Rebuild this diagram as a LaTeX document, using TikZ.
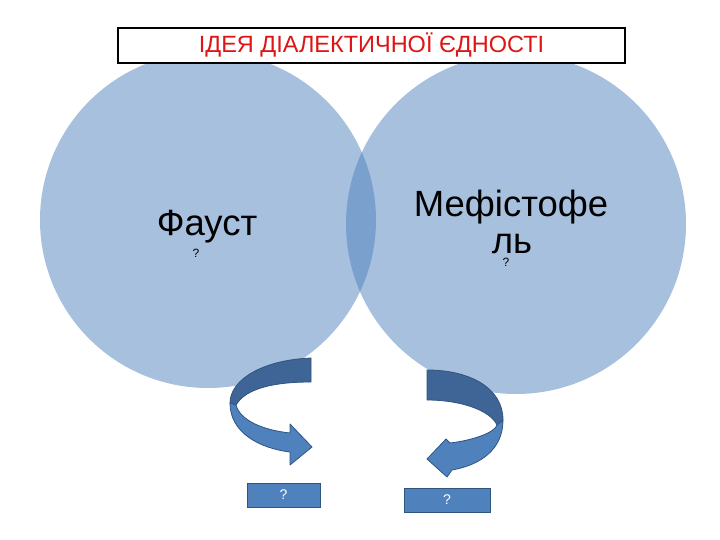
\documentclass[tikz,border=0pt]{standalone}
\usepackage{fontspec}
\setmainfont{Liberation Sans}
\definecolor{circblue}{HTML}{4F81BD}
\definecolor{bandlight}{HTML}{4F81BD}
\definecolor{banddark}{HTML}{3F6496}
\definecolor{bandedge}{HTML}{30557F}
\definecolor{titlered}{HTML}{DD1515}
\tikzset{
  ball/.style={circle, fill=circblue, fill opacity=0.5, draw=none, inner sep=0pt},
  bigtext/.style={font=\fontsize{36.5}{38}\selectfont, text=black, align=center, inner sep=0pt},
  smallq/.style={font=\fontsize{12}{14}\selectfont, text=black, inner sep=0pt},
  qbox/.style={rectangle, fill=bandlight, draw=bandedge, line width=0.8pt, inner sep=0pt, text=white, font=\fontsize{14}{16}\selectfont},
  darkpart/.style={fill=banddark, draw=bandedge, line width=0.8pt, line join=round},
  lightpart/.style={fill=bandlight, draw=bandedge, line width=0.8pt, line join=round},
}
\begin{document}
\begin{tikzpicture}[x=1pt, y=-1pt]
\useasboundingbox (0,0) rectangle (720,540);
% circles
\node[ball, minimum size=336pt] (faust) at (208,220) {};
\node[ball, minimum size=340pt] (mefisto) at (516,224) {};
% texts in circles
\node[bigtext, anchor=base] (tfaust) at (207,236) {Фауст};
\node[bigtext, anchor=base] (tmef1) at (511,216) {Мефістофе};
\node[bigtext, anchor=base] (tmef2) at (512,254) {ль};
\node[smallq] (q1) at (196,253) {?};
\node[smallq] (q2) at (506,262) {?};
% title
\node[rectangle, draw=black, fill=white, line width=1.6pt, minimum width=507pt, minimum height=35pt, text=titlered, font=\fontsize{23.5}{25}\selectfont] (title) at (371.5,45.5) {ІДЕЯ ДІАЛЕКТИЧНОЇ ЄДНОСТІ};
% left curved arrow
\path[darkpart] (311,358) .. controls (262,360) and (230,380) .. (230,403) -- (236,405) .. controls (246,388) and (275,382) .. (311,382) -- cycle;
\path[lightpart] (230,403) .. controls (230,432) and (258,448) .. (290,452) -- (290,465) -- (312,447) -- (290,424) -- (290,433) .. controls (262,430) and (240,420) .. (236,405) -- cycle;
% right curved arrow
\path[darkpart] (427,370) .. controls (470,370) and (503,388) .. (503,420) -- (497,425) .. controls (490,410) and (460,400) .. (427,400) -- cycle;
\path[lightpart] (503,420) .. controls (503,450) and (480,465) .. (452,470) -- (447,477) -- (427,459) -- (446,439) -- (450,443) .. controls (475,440) and (495,432) .. (497,425) -- cycle;
% question boxes
\node[qbox, minimum width=73pt, minimum height=24pt] (box1) at (283.5,495) {?};
\node[qbox, minimum width=86pt, minimum height=24pt] (box2) at (447,500) {?};
\end{tikzpicture}
\end{document}
